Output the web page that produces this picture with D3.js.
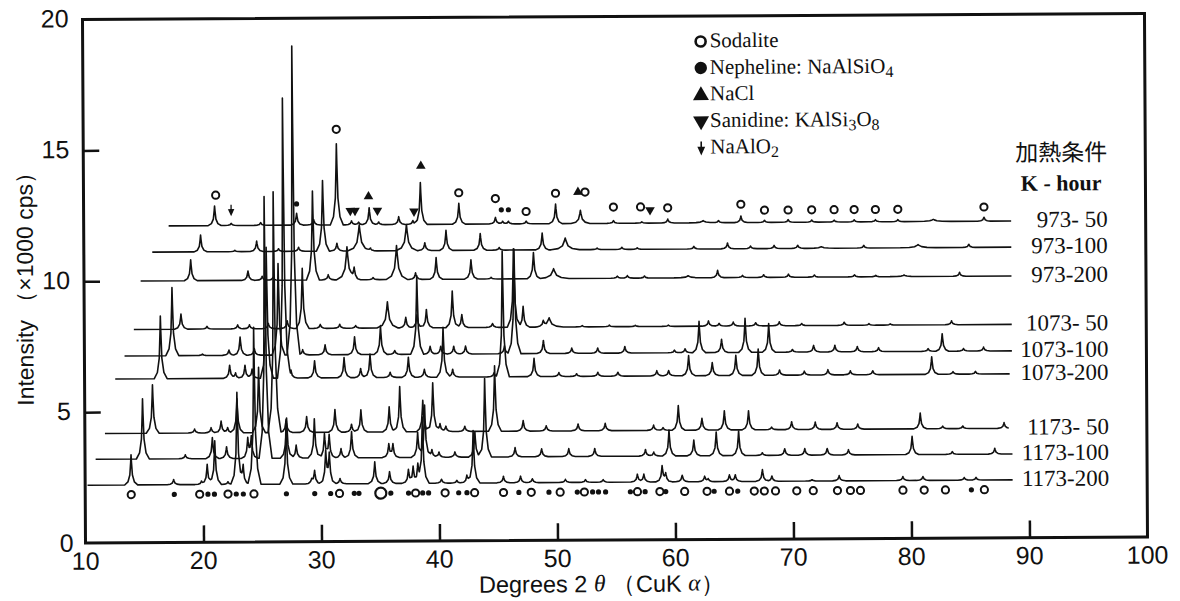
<!DOCTYPE html>
<html><head><meta charset="utf-8">
<script src="https://cdn.jsdelivr.net/npm/d3@7"></script>
<style>body{margin:0;background:#fff}svg{display:block}</style>
</head><body>
<svg id="c" width="1180" height="601"></svg>
<script>
// ---------------- data ----------------
const xTickValues = [10,20,30,40,50,60,70,80,90,100];
const yTickValues = [0,5,10,15,20];
const sampleLabels = ["973- 50","973-100","973-200","1073- 50","1073-100","1073-200","1173- 50","1173-100","1173-200"];
const baselines = [12.1, 11.1, 10.0, 8.15, 7.14, 6.26, 4.18, 3.2, 2.21];
const traceStart = [17.2, 15.8, 14.8, 14.2, 13.4, 12.6, 11.7, 10.9, 10.2];
const traceEnd = [88.6, 88.6, 88.6, 88.6, 88.6, 88.4, 88.3, 88.6, 88.6];

// peaks: [2theta, height (x1000 cps above trace baseline), half base width]
const peaks_973_50 = [[21.1,0.75],[22.5,0.08],[25.0,0.1],[28.05,0.45],[29.5,0.2],[31.45,3.1],[32.7,0.15],[33.3,0.1],[34.2,0.65],[35.0,0.1],[36.7,0.3],[37.9,0.15],[38.55,1.6],[41.8,0.8],[44.9,0.25],[45.5,0.1],[46.0,0.1],[47.5,0.1],[50.0,0.75],[52.1,0.5,0.8],[54.9,0.1],[57.3,0.05],[59.5,0.15],[62.5,0.08,1.2],[63.8,0.08],[65.7,0.25],[67.7,0.08],[69.7,0.1],[71.7,0.08],[73.6,0.07],[75.3,0.08],[77.1,0.08],[79.0,0.08],[82.0,0.08,1.5],[86.3,0.15]];
const peaks_973_100 = [[19.9,0.64],[22.8,0.05],[24.65,0.4],[26.5,0.1],[28.2,0.15],[30.26,2.7],[31.45,0.3],[33.35,1.0,1.0],[34.3,0.1],[37.35,1.0,0.9],[38.9,0.3],[40.7,0.77],[43.6,0.64],[45.2,0.1],[48.85,0.64],[50.8,0.45,1.2],[53.5,0.06],[55.6,0.08],[56.9,0.06],[61.7,0.1],[64.55,0.22],[66.5,0.1],[68.5,0.12],[70.5,0.12],[72.5,0.06,1.2],[76.1,0.1],[80.7,0.12,1.5],[85.0,0.12]];
const peaks_973_200 = [[19.05,0.8],[23.9,0.36],[25.1,0.15],[26.0,0.1],[29.4,3.4],[30.7,0.2],[32.3,1.26,0.9],[32.9,0.4],[34.5,0.08],[36.5,1.3,0.9],[38.1,0.25],[39.85,0.83],[42.8,0.74],[44.5,0.06],[48.1,1.0],[49.8,0.38,1.3],[55.2,0.08],[56.05,0.1],[57.5,0.08],[61.2,0.08,1.2],[63.7,0.28],[65.8,0.08],[67.6,0.1],[69.7,0.12],[71.9,0.08],[75.3,0.08],[77.1,0.05],[79.5,0.06,1.2],[84.2,0.15]];
const peaks_1073_50 = [[18.2,0.58],[20.4,0.1],[23.0,0.15],[24.0,0.15],[25.6,0.2],[27.2,0.3],[28.5,2.3],[30.0,0.15],[31.65,0.15],[33.0,0.1],[35.7,1.0,0.9],[37.25,0.4],[38.2,0.5],[39.0,0.7],[41.2,1.4],[42.0,0.5],[44.6,0.15],[46.4,3.0],[47.2,0.8],[48.9,0.2],[49.4,0.35,1.2],[52.2,0.05],[54.5,0.06],[56.7,0.05],[59.5,0.05],[62.9,0.2],[63.8,0.1],[65.0,0.15],[66.9,0.12],[68.9,0.15],[70.8,0.08],[74.4,0.12],[76.5,0.06],[78.3,0.05],[83.5,0.15]];
const peaks_1073_100 = [[17.45,2.6],[20.0,0.05],[22.25,0.2],[23.2,0.7],[24.4,0.25],[26.45,3.5],[27.72,11.8],[28.5,0.2],[30.4,0.38],[32.9,0.68],[35.1,1.1],[36.3,0.15],[38.2,3.0],[39.3,0.3],[40.2,0.3],[41.3,0.3],[42.3,0.3],[45.6,0.3],[46.45,4.0],[48.9,0.5],[51.3,0.2],[53.5,0.2],[55.8,0.25],[60.0,0.1],[60.9,0.15],[62.1,1.2],[64.0,0.5],[66.0,1.3],[68.0,1.1],[70.0,0.1],[71.8,0.25],[73.6,0.25],[75.5,0.2],[77.3,0.15],[81.5,0.1],[82.7,0.67],[84.5,0.1],[86.2,0.15]];
const peaks_1073_200 = [[16.45,2.4],[22.3,0.5],[22.8,0.2],[23.6,0.5],[24.2,0.35],[25.45,5.0],[26.9,10.7],[27.5,0.3],[29.5,0.65],[32.0,0.77],[33.4,0.35],[34.2,0.9],[35.9,0.2],[37.45,0.77],[38.8,0.3],[40.4,1.9],[41.2,0.3],[44.7,0.15],[45.45,4.8],[48.1,0.7],[50.2,0.15],[51.7,0.1],[53.5,0.15],[55.2,0.15],[58.5,0.2],[59.5,0.2],[61.2,0.77],[63.2,0.5],[65.2,0.77],[67.1,1.0],[68.9,0.2],[71.0,0.15],[73.0,0.2],[74.9,0.15],[76.8,0.15],[81.8,0.67],[83.6,0.1],[85.5,0.1]];
const peaks_1173_50 = [[15.75,1.85],[19.3,0.15],[20.7,0.2],[21.55,0.45],[22.1,0.2],[22.9,1.3],[24.75,2.5],[26.07,9.2],[27.06,0.5],[28.8,0.6],[31.2,0.87],[32.6,0.3],[33.4,0.85],[35.8,0.96],[36.7,1.73],[38.65,1.2],[39.5,1.87],[40.1,0.3],[40.6,0.2],[42.2,0.2],[44.75,2.5],[47.15,0.4],[49.1,0.2],[51.8,0.26],[54.1,0.28],[58.2,0.2],[59.0,0.1],[60.3,0.94],[62.3,0.45],[64.2,0.73],[66.25,0.73],[68.2,0.1],[69.9,0.3],[71.9,0.28],[73.75,0.25],[75.5,0.2],[80.8,0.6],[82.7,0.1],[84.4,0.1],[87.9,0.22]];
const peaks_1173_100 = [[14.9,2.3],[18.5,0.15],[20.8,0.8],[22.0,0.45],[23.8,0.73],[24.1,0.8],[25.3,10.0],[27.1,1.53],[27.9,0.5],[29.45,1.5],[30.3,0.88],[30.7,0.85],[31.7,0.35],[32.6,1.0],[35.75,0.5],[36.1,0.5],[38.2,0.96],[38.8,2.0],[39.4,0.3],[40.0,0.2],[41.35,0.2],[43.05,0.96],[43.9,3.0],[46.45,0.35],[48.7,0.3],[51.0,0.3],[53.2,0.3],[57.5,0.25],[58.2,0.15],[59.5,0.99],[61.6,0.6],[63.5,0.9],[65.4,0.94],[67.4,0.1],[69.3,0.25],[71.0,0.25],[72.9,0.25],[74.7,0.2],[80.1,0.7],[83.5,0.1],[87.1,0.22]];
const peaks_1173_200 = [[13.9,1.15],[17.5,0.2],[19.85,0.12],[20.35,0.77],[21.0,1.67],[22.1,0.1],[22.9,3.5],[23.4,0.7],[24.35,6.0],[27.05,2.4],[29.2,0.15],[29.45,0.5],[30.4,1.2],[30.7,1.1],[31.6,0.2],[34.55,0.83],[35.8,0.45],[37.4,0.5],[37.8,0.6],[38.2,0.6],[38.6,2.5],[40.2,0.15],[41.5,0.1],[42.35,0.3],[42.9,2.0],[45.45,0.25],[46.9,0.25],[47.9,0.15],[50.7,0.12],[52.4,0.1],[53.9,0.1],[56.8,0.3],[57.35,0.3],[58.9,0.6],[59.2,0.3],[60.6,0.25],[62.5,0.2],[62.8,0.1],[64.6,0.25],[65.1,0.25],[67.4,0.45],[68.2,0.2],[71.6,0.05],[73.9,0.2],[79.3,0.15],[81.0,0.15],[84.5,0.1],[85.5,0.1]];
const allPeaks = [peaks_973_50,peaks_973_100,peaks_973_200,peaks_1073_50,peaks_1073_100,peaks_1073_200,peaks_1173_50,peaks_1173_100,peaks_1173_200];

// phase markers: [2theta, y]
const sodaliteMarks = [[21.2,13.26],[31.45,15.75],[41.8,13.3],[44.9,13.07],[47.5,12.57],[50.0,13.26],[52.5,13.3],[54.9,12.72],[57.2,12.72],[59.5,12.68],[65.7,12.8],[67.7,12.57],[69.7,12.57],[71.7,12.57],[73.6,12.57],[75.3,12.57],[77.1,12.57],[79.0,12.57],[86.3,12.64],
  [13.9,1.84],[19.7,1.84],[22.1,1.84],[24.3,1.84],[31.55,1.84],[38.0,1.84],[40.5,1.84],[43.0,1.84],[45.45,1.84],[47.8,1.84],[50.25,1.84],[52.3,1.84],[56.8,1.84],[58.7,1.84],[60.8,1.84],[62.7,1.84],[64.6,1.84],[66.7,1.84],[67.55,1.84],[68.5,1.84],[70.3,1.84],[71.7,1.84],[73.75,1.84],[74.85,1.84],[75.7,1.84],[79.3,1.84],[81.1,1.84],[82.9,1.84],[86.2,1.84]];
const sodaliteLargeMarks = [[35.05,1.84]];
const nephelineMarks = [[28.05,12.91],[45.4,12.64],[46.0,12.64],
  [17.55,1.84],[20.4,1.84],[20.95,1.84],[22.8,1.84],[23.4,1.84],[27.05,1.84],[29.45,1.84],[30.8,1.84],[32.8,1.84],[33.2,1.84],[35.9,1.84],[37.4,1.84],[38.6,1.84],[39.1,1.84],[41.65,1.84],[42.35,1.84],[46.75,1.84],[49.3,1.84],[51.7,1.84],[53.0,1.84],[53.5,1.84],[54.1,1.84],[56.2,1.84],[57.45,1.84],[59.2,1.84],[63.3,1.84],[65.3,1.84],[85.1,1.84]];
const naclMarks = [[34.15,13.18],[38.6,14.33],[51.9,13.3]];
const sanidineMarks = [[32.6,12.64],[33.0,12.64],[34.9,12.64],[38.0,12.6],[58.0,12.6]];
const naalo2Marks = [[22.5,12.7]];

const legendItems = ["Sodalite","Nepheline","NaCl","Sanidine","NaAlO2"];

// ---------------- drawing ----------------
const FONT_SERIF = "'Liberation Serif','Times New Roman','DejaVu Serif',serif";
const FONT_SANS = "'Liberation Sans',Arial,Helvetica,sans-serif";
const svg = d3.select("#c");
const padL = 84, padR = 1146, padT = 16.5, padB = 540;
const x = d3.scaleLinear().domain([10,100]).range([padL,padR]);
const y = d3.scaleLinear().domain([0,20]).range([padB,padT]);

const g = svg.append("g").attr("transform","rotate(-0.33,615,280)");

const SHAPE_OFF = [-1,-0.5,-0.2,-0.06,0,0.06,0.2,0.5,1];
const SHAPE_FR  = [0,0.1,0.33,0.75,1,0.75,0.33,0.1,0];
function peakAt(p, xv){
  const c=p[0], h=p[1], w=p[2]||0.55;
  const t=(xv-c)/w;
  if (t<=-1||t>=1) return 0;
  for (let i=0;i<SHAPE_OFF.length-1;i++){
    if (t>=SHAPE_OFF[i] && t<=SHAPE_OFF[i+1]){
      const a=(t-SHAPE_OFF[i])/(SHAPE_OFF[i+1]-SHAPE_OFF[i]);
      return h*(SHAPE_FR[i]+a*(SHAPE_FR[i+1]-SHAPE_FR[i]));
    }
  }
  return 0;
}
function tracePoints(peaks, base, x0, x1){
  let xs=[x0,x1];
  peaks.forEach(p=>{ const w=p[2]||0.55; SHAPE_OFF.forEach(o=>xs.push(p[0]+o*w)); });
  xs = Array.from(new Set(xs.filter(v=>v>=x0&&v<=x1))).sort((a,b)=>a-b);
  return xs.map(v=>[v, base + d3.sum(peaks, p=>peakAt(p,v))]);
}
const line = d3.line().x(d=>x(d[0])).y(d=>y(d[1]));

allPeaks.forEach((pk,i)=>{
  g.append("path").attr("d", line(tracePoints(pk, baselines[i], traceStart[i], traceEnd[i])))
    .attr("fill","none").attr("stroke","#111").attr("stroke-width",1.6).attr("stroke-linejoin","round");
  g.append("text").attr("x",1108).attr("y",y(baselines[i])+1).attr("text-anchor","end")
    .attr("dominant-baseline","middle").style("font-family",FONT_SERIF)
    .attr("font-size",23).attr("fill","#111").text(sampleLabels[i]);
});

// frame
g.append("rect").attr("x",padL).attr("y",padT).attr("width",padR-padL).attr("height",padB-padT)
  .attr("fill","none").attr("stroke","#111").attr("stroke-width",3);

// axes via d3 axis (inner ticks)
const xAxis = d3.axisTop(x).tickValues(xTickValues.filter(v=>v>10&&v<100)).tickSize(17).tickFormat("");
const gx = g.append("g").attr("transform",`translate(0,${padB})`).call(xAxis);
gx.select(".domain").remove();
gx.selectAll("line").attr("stroke","#111").attr("stroke-width",2.5);
const yAxis = d3.axisRight(y).tickValues(yTickValues.filter(v=>v>0&&v<20)).tickSize(16).tickFormat("");
const gy = g.append("g").attr("transform",`translate(${padL},0)`).call(yAxis);
gy.select(".domain").remove();
gy.selectAll("line").attr("stroke","#111").attr("stroke-width",2.5);

g.selectAll(".xl").data(xTickValues).enter().append("text")
  .attr("x",d=>x(d)).attr("y",padB+20).attr("text-anchor","middle").attr("dominant-baseline","middle")
  .style("font-family",FONT_SANS).attr("font-size",25).attr("fill","#111").text(d=>d);
g.selectAll(".yl").data(yTickValues).enter().append("text")
  .attr("x",d=> d===0 ? 72 : 70).attr("y",d=> d===0 ? y(d)+2 : y(d)+1).attr("text-anchor","end").attr("dominant-baseline","middle")
  .style("font-family",FONT_SANS).attr("font-size",25).attr("fill","#111").text(d=>d);

const yl = g.append("text").attr("transform","translate(27,280) rotate(-90)").attr("text-anchor","middle")
  .attr("dominant-baseline","middle").style("font-family",FONT_SANS).attr("font-size",23).attr("fill","#111");
yl.append("tspan").text("Intensity （×1000 cps）");
const xl = g.append("text").attr("x",600).attr("y",586).attr("text-anchor","middle").attr("dominant-baseline","middle")
  .style("font-family",FONT_SANS).attr("font-size",23.5).attr("fill","#111");
xl.append("tspan").text("Degrees 2 ");
xl.append("tspan").style("font-family",FONT_SERIF).attr("font-style","italic").text("θ");
xl.append("tspan").text(" （CuK ");
xl.append("tspan").style("font-family",FONT_SERIF).attr("font-style","italic").text("α");
xl.append("tspan").text("）");

// markers
const mk = g.append("g");
mk.selectAll(".so").data(sodaliteMarks).enter().append("circle")
  .attr("cx",d=>x(d[0])).attr("cy",d=>y(d[1])).attr("r",3.6).attr("fill","#fff").attr("stroke","#111").attr("stroke-width",2);
mk.selectAll(".sol").data(sodaliteLargeMarks).enter().append("circle")
  .attr("cx",d=>x(d[0])).attr("cy",d=>y(d[1])).attr("r",5.5).attr("fill","#fff").attr("stroke","#111").attr("stroke-width",2.2);
mk.selectAll(".ne").data(nephelineMarks).enter().append("circle")
  .attr("cx",d=>x(d[0])).attr("cy",d=>y(d[1])).attr("r",2.6).attr("fill","#111");
const triUp = d3.symbol().type(d3.symbolTriangle).size(40);
mk.selectAll(".na").data(naclMarks).enter().append("path")
  .attr("d",triUp).attr("transform",d=>`translate(${x(d[0])},${y(d[1])})`).attr("fill","#111");
mk.selectAll(".sa").data(sanidineMarks).enter().append("path")
  .attr("d",triUp).attr("transform",d=>`translate(${x(d[0])},${y(d[1])}) rotate(180)`).attr("fill","#111");
function arrowPath(cx,cy,s){ return `M${cx},${cy-s} L${cx},${cy+s*0.3} M${cx-s*0.45},${cy} L${cx},${cy+s} L${cx+s*0.45},${cy} Z`; }
mk.selectAll(".ar").data(naalo2Marks).enter().append("path")
  .attr("d",d=>arrowPath(x(d[0]),y(d[1]),5)).attr("fill","#111").attr("stroke","#111").attr("stroke-width",1.3);

// legend
const lg = g.append("g");
const lx = 702, ly0 = 42, ldy = 26.5;
legendItems.forEach((name,i)=>{
  const cy = ly0 + i*ldy;
  if (i===0) lg.append("circle").attr("cx",lx).attr("cy",cy).attr("r",5).attr("fill","#fff").attr("stroke","#111").attr("stroke-width",2.6);
  if (i===1) lg.append("circle").attr("cx",lx).attr("cy",cy).attr("r",6.2).attr("fill","#111");
  if (i===2) lg.append("path").attr("d",d3.symbol().type(d3.symbolTriangle).size(110)).attr("transform",`translate(${lx},${cy+1})`).attr("fill","#111");
  if (i===3) lg.append("path").attr("d",d3.symbol().type(d3.symbolTriangle).size(110)).attr("transform",`translate(${lx},${cy}) rotate(180)`).attr("fill","#111");
  if (i===4) lg.append("path").attr("d",arrowPath(lx,cy,6)).attr("fill","#111").attr("stroke","#111").attr("stroke-width",1.6);
  const t = lg.append("text").attr("x",lx+9).attr("y",cy+1).attr("dominant-baseline","middle")
    .style("font-family",FONT_SERIF).attr("font-size",21).attr("fill","#111");
  if (i===0) t.text("Sodalite");
  if (i===1){ t.append("tspan").text("Nepheline: NaAlSiO"); t.append("tspan").attr("dy",5).attr("font-size",16).text("4"); }
  if (i===2) t.text("NaCl");
  if (i===3){ t.append("tspan").text("Sanidine: KAlSi"); t.append("tspan").attr("dy",5).attr("font-size",16).text("3");
              t.append("tspan").attr("dy",-5).text("O"); t.append("tspan").attr("dy",5).attr("font-size",16).text("8"); }
  if (i===4){ t.append("tspan").text("NaAlO"); t.append("tspan").attr("dy",5).attr("font-size",16).text("2"); }
});

g.append("text").attr("x",1108).attr("y",157).attr("text-anchor","end").attr("dominant-baseline","middle")
  .style("font-family","'Noto Sans CJK JP','Noto Sans CJK SC',sans-serif").attr("font-size",23).attr("fill","#111").text("加熱条件");
g.append("text").attr("x",1102).attr("y",188).attr("text-anchor","end").attr("dominant-baseline","middle")
  .style("font-family",FONT_SERIF).attr("font-size",22).attr("font-weight","bold").attr("fill","#111").text("K - hour");
</script>
</body></html>
